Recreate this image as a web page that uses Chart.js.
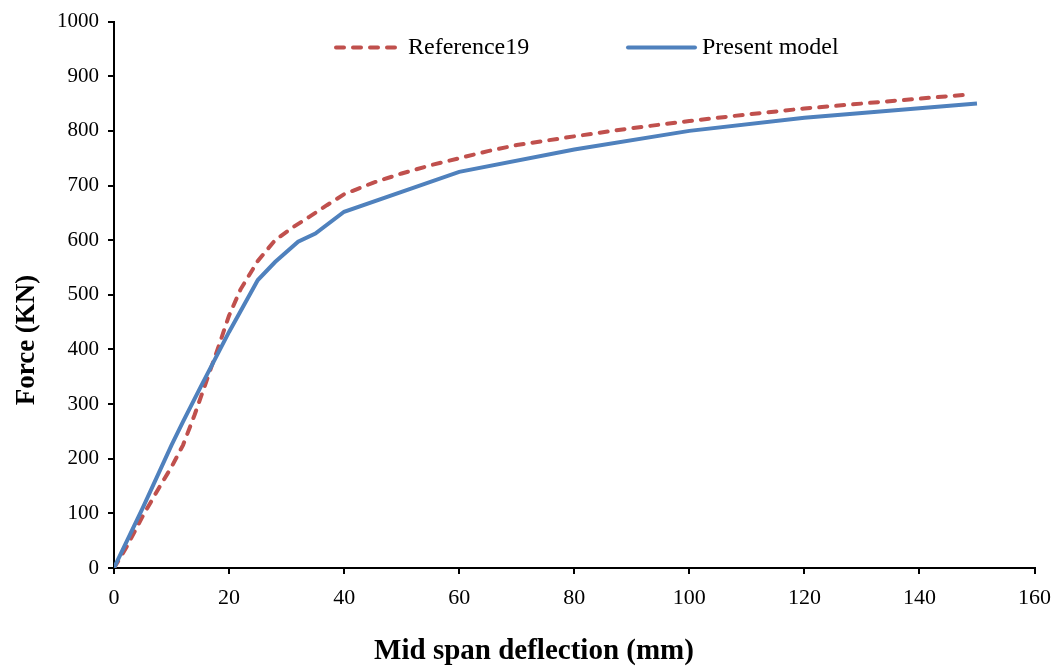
<!DOCTYPE html>
<html>
<head>
<meta charset="utf-8">
<script src="https://cdn.jsdelivr.net/npm/chart.js@4.4.0/dist/chart.umd.min.js"></script>
<style>
  html, body { margin: 0; padding: 0; background: #fff; }
  #wrap { width: 1062px; height: 670px; position: relative; }
</style>
</head>
<body>
<div id="wrap"><canvas id="forceChart"></canvas></div>
<script>
// Reference19 curve (deflection mm, force kN)
var refX = [0, 2, 5, 8, 10, 12, 14, 16, 18, 20, 22, 25, 28, 31, 34, 37, 40, 45, 50, 55, 60, 65, 70, 75, 80, 90, 100, 110, 120, 130, 140, 148];
var refY = [0, 35, 95, 150, 185, 225, 280, 340, 400, 462, 510, 562, 600, 623, 643, 664, 684, 705, 722, 737, 750, 763, 774, 782, 790, 805, 818, 830, 841, 850, 859, 866];

// Present model curve
var modelX = [0, 5, 10, 12, 15, 20, 25, 28, 32, 35, 40, 60, 80, 100, 120, 150];
var modelY = [0, 110, 225, 268, 330, 432, 527, 560, 597, 612, 652, 725, 766, 800, 824, 850];

var seriesNames = ['Reference19', 'Present model'];
var xTicks = { min: 0, max: 160, step: 20 };
var yTicks = { min: 0, max: 1000, step: 100 };

var redColor = '#C0504D';
var blueColor = '#4F81BD';
var serif = "'Liberation Serif', 'Times New Roman', serif";

function toPoints(xs, ys) {
  return xs.map(function (x, i) { return { x: x, y: ys[i] }; });
}

// legend + axis titles drawn on top, positioned like the original figure
var decorations = {
  id: 'decorations',
  afterDraw: function (chart) {
    var ctx = chart.ctx;
    var area = chart.chartArea;
    var ly = area.top + 26;
    ctx.save();
    ctx.lineWidth = 4;

    ctx.strokeStyle = redColor;
    ctx.lineCap = 'round';
    ctx.setLineDash([8, 9]);
    ctx.beginPath();
    ctx.moveTo(336, ly);
    ctx.lineTo(400, ly);
    ctx.stroke();

    ctx.setLineDash([]);
    ctx.strokeStyle = blueColor;
    ctx.beginPath();
    ctx.moveTo(628, ly);
    ctx.lineTo(695, ly);
    ctx.stroke();

    ctx.fillStyle = '#000';
    ctx.font = '24px ' + serif;
    ctx.textBaseline = 'middle';
    ctx.textAlign = 'left';
    ctx.fillText(seriesNames[0], 408, ly);
    ctx.fillText(seriesNames[1], 702, ly);

    ctx.font = 'bold 29px ' + serif;
    ctx.textAlign = 'center';
    ctx.fillText('Mid span deflection (mm)', 534, 652);

    ctx.translate(27, 340);
    ctx.rotate(-Math.PI / 2);
    ctx.font = 'bold 27px ' + serif;
    ctx.fillText('Force (KN)', 0, 0);
    ctx.restore();
  }
};

var ctx = document.getElementById('forceChart').getContext('2d');
var chart = new Chart(ctx, {
  type: 'line',
  data: {
    datasets: [{
      label: seriesNames[0],
      data: toPoints(refX, refY),
      borderColor: redColor,
      borderWidth: 4,
      borderDash: [8, 9],
      borderCapStyle: 'round',
      pointRadius: 0,
      tension: 0,
      order: 1
    }, {
      label: seriesNames[1],
      data: toPoints(modelX, modelY),
      borderColor: blueColor,
      borderWidth: 4,
      pointRadius: 0,
      tension: 0,
      order: 0
    }]
  },
  options: {
    responsive: true,
    maintainAspectRatio: false,
    animation: false,
    layout: { padding: { left: 0, top: 17, right: 23, bottom: 0 } },
    plugins: {
      legend: { display: false },
      tooltip: { enabled: false }
    },
    scales: {
      x: {
        type: 'linear',
        min: xTicks.min,
        max: xTicks.max,
        afterFit: function (scale) { scale.height = 102; },
        ticks: {
          stepSize: xTicks.step,
          color: '#000',
          padding: 11,
          maxRotation: 0,
          callback: function (v) { return String(v); },
          font: { family: serif, size: 22 }
        },
        grid: { drawOnChartArea: false, drawTicks: true, tickLength: 6, color: '#000', lineWidth: 2 },
        border: { color: '#000', width: 2 }
      },
      y: {
        min: yTicks.min,
        max: yTicks.max,
        afterFit: function (scale) { scale.width = 114; },
        ticks: {
          stepSize: yTicks.step,
          color: '#000',
          padding: 9,
          callback: function (v) { return String(v); },
          font: { family: serif, size: 21 }
        },
        grid: { drawOnChartArea: false, drawTicks: true, tickLength: 6, color: '#000', lineWidth: 2 },
        border: { color: '#000', width: 2 }
      }
    }
  },
  plugins: [decorations]
});
</script>
</body>
</html>
